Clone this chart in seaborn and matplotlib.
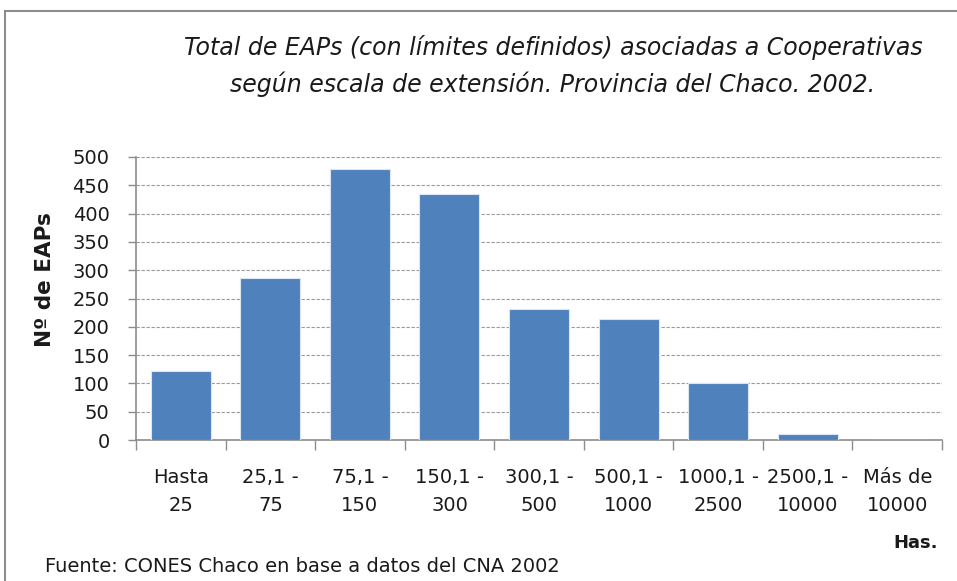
import numpy as np
import pandas as pd
import matplotlib
matplotlib.use("Agg")
import matplotlib.pyplot as plt
from matplotlib.patches import Rectangle
import seaborn as sns

# datos del grafico
escalas = ["Hasta\n25", "25,1 -\n75", "75,1 -\n150", "150,1 -\n300", "300,1 -\n500",
           "500,1 -\n1000", "1000,1 -\n2500", "2500,1 -\n10000", "Más de\n10000"]
eaps = [122, 286, 478, 435, 231, 213, 100, 10, 0]
yticks = [0, 50, 100, 150, 200, 250, 300, 350, 400, 450, 500]

titulo = "Total de EAPs (con límites definidos) asociadas a Cooperativas\nsegún escala de extensión. Provincia del Chaco. 2002."
fuente = "Fuente: CONES Chaco en base a datos del CNA 2002"

sns.set_theme(style="white")
plt.rcParams['font.family'] = ['DejaVu Sans']

df = pd.DataFrame({"escala": escalas, "eaps": eaps})

fig = plt.figure(figsize=(9.57, 5.81), dpi=100)
ax = fig.add_axes([136/957, 1-440/581, 806/957, 283/581])

sns.barplot(data=df, x="escala", y="eaps", color="#4F81BD", saturation=1,
            width=0.67, edgecolor="#DCE6F2", linewidth=0.8, ax=ax, zorder=3)

ax.set_ylim(0, 500)
ax.set_xlim(-0.5, len(escalas)-0.5)
ax.set_yticks(yticks)
ax.yaxis.grid(True, linestyle=(0, (3, 1.5)), color="#9a9a9a", linewidth=0.8, zorder=0)
ax.xaxis.grid(False)

for s in ["top", "right"]:
    ax.spines[s].set_visible(False)
for s in ["left", "bottom"]:
    ax.spines[s].set_color("#8c8c8c")
    ax.spines[s].set_linewidth(1.2)

ax.tick_params(axis="y", which="major", length=6, width=1, color="#8c8c8c",
               direction="out", labelsize=14, pad=13, left=True)
ax.tick_params(axis="x", which="major", length=0, labelsize=14, pad=20)
ax.set_xticks(np.arange(-0.5, len(escalas), 1), minor=True)
ax.tick_params(axis="x", which="minor", length=7, width=1, color="#8c8c8c",
               direction="out", bottom=True)
for lbl in ax.get_xticklabels():
    lbl.set_linespacing(1.6)
for lbl in ax.get_xticklabels() + ax.get_yticklabels():
    lbl.set_color("#1a1a1a")

ax.set_xlabel("")
ax.set_ylabel("")
fig.text(45/957, 1-280/581, "Nº de EAPs", rotation=90, ha="center", va="center",
         fontsize=15.5, fontweight="bold", color="#1a1a1a")

fig.text(553/957, 1-66/581, titulo, ha="center", va="center", fontsize=17,
         style="italic", color="#1a1a1a", linespacing=1.6)
fig.text(938/957, 1-543/581, "Has.", ha="right", va="center", fontsize=13,
         fontweight="bold", color="#1a1a1a")
fig.text(45/957, 1-567/581, fuente, ha="left", va="center", fontsize=14,
         color="#1a1a1a")

# marco del area de grafico
fig.patches.append(Rectangle((5/957, -0.05), 1.1, 1-11/581+0.05, transform=fig.transFigure,
                             fill=False, edgecolor="#8c8c8c", linewidth=1.5))

fig.savefig("out.png", dpi=100)
